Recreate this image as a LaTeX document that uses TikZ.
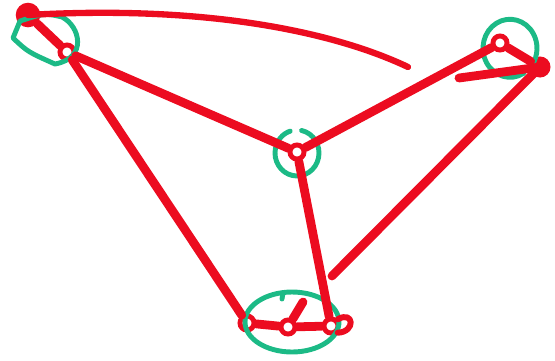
\documentclass[tikz,border=0pt]{standalone}
\usetikzlibrary{calc}

\definecolor{marker}{RGB}{236,12,32}
\definecolor{mint}{RGB}{28,186,134}

\tikzset{
  stroke/.style={marker, line width=5pt, line cap=round, line join=round},
  joint/.style={circle, draw=marker, line width=2.8pt, inner sep=0pt, minimum size=8pt},
  blob/.style={circle, fill=marker, inner sep=0pt, minimum size=12pt},
  loop/.style={mint, line width=2.8pt, line cap=round, line join=round},
}

\begin{document}
\begin{tikzpicture}[x=0.02cm,y=-0.02cm]

% canvas in pixel units
\useasboundingbox (0,0) rectangle (555,360);

% joints
\node[blob, minimum size=14pt] (tl) at (28,15) {};
\node[joint] (tlr) at (67,52) {};
\node[joint] (c)   at (297,152) {};
\node[joint] (trr) at (500,43) {};
\node[blob]  (tr)  at (540,67) {};
\node[joint] (bl)  at (247,323) {};
\node[joint] (bm)  at (288,327) {};
\node[joint] (br)  at (331,326) {};

% free ends
\coordinate (topend) at (408,67);
\coordinate (trend)  at (459,78);
\coordinate (diag)   at (332,276);
\coordinate (stub)   at (303,302);

% green loops
\draw[loop] (20,21) -- (13,38) .. controls (28,52) .. (55,64)
  .. controls (88,58) and (80,26) .. (62,17) .. controls (45,13) .. cycle;
\draw[loop] ([shift={(282:22)}]c.center) arc[start angle=282, end angle=612, x radius=22, y radius=23];
\draw[loop] ([shift={(60:27)}]510,50) arc[start angle=60, end angle=395, x radius=27, y radius=29];
\draw[loop] (292,322) ellipse[x radius=47, y radius=30];
\draw[loop] (283,293) -- (282,299);

% red strokes
\draw[stroke, line width=3.6pt] (tl.center) .. controls (200,5) and (330,30) .. (topend);
\draw[stroke] (tl) -- (tlr);
\draw[stroke] (tlr) -- (c);
\draw[stroke] (tlr) -- (bl);
\draw[stroke] (c) -- (trr);
\draw[stroke] (c) -- (br);
\draw[stroke] (trr) -- (tr);
\draw[stroke] (trend) -- (tr.center);
\draw[stroke] (tr.center) -- (diag);
\draw[stroke] (bl) -- (bm);
\draw[stroke] (bm) -- (br);
\draw[stroke] (bm) -- (stub);
\draw[stroke, line width=3.4pt] (br.north east) .. controls (354,310) and (356,332) .. (br.south east);

\end{tikzpicture}
\end{document}
